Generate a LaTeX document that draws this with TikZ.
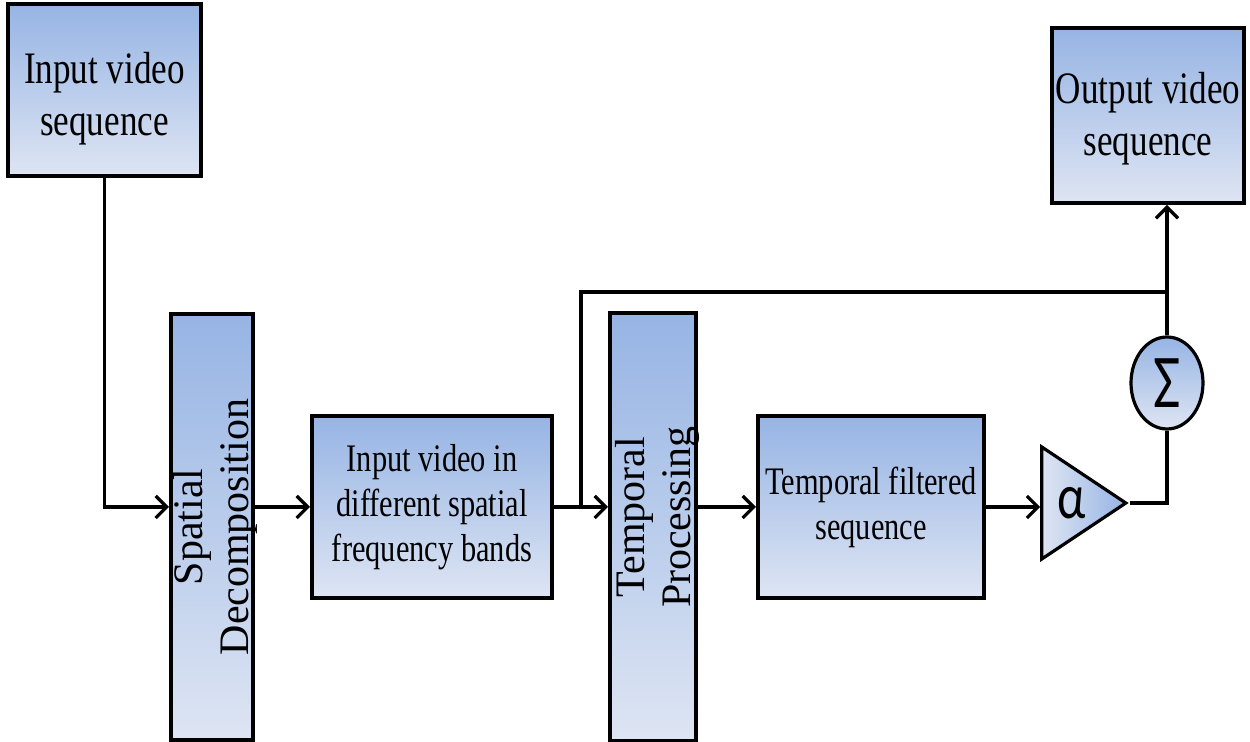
\documentclass[tikz,border=0pt]{standalone}
\usepackage{fontspec}
\setmainfont{Liberation Serif}[FakeStretch=0.78]
\newfontfamily\plainserif{Liberation Serif}
\newfontfamily\greekfont{Carlito}[FakeStretch=0.78]
\usetikzlibrary{arrows.meta,shapes.geometric,calc}

\definecolor{bandtop}{RGB}{150,180,228}
\definecolor{bandbot}{RGB}{222,229,243}

\tikzset{
	blk/.style={draw,line width=2pt,top color=bandtop,bottom color=bandbot,inner sep=0pt,align=center},
	bigtxt/.style={font=\fontsize{22.5}{26}\selectfont},
	midtxt/.style={font=\fontsize{19.5}{22.5}\selectfont},
	vtxt/.style={rotate=90,align=center,inner sep=0pt,font=\plainserif\fontsize{21}{23}\selectfont},
	greektxt/.style={font=\greekfont\fontsize{32}{32}\selectfont},
	conn/.style={line width=1.6pt},
	arr/.style={conn,-{Straight Barb[length=5.5pt,width=11pt]}}
}

\begin{document}
\begin{tikzpicture}[x=0.5pt,y=-0.5pt]
		
		\useasboundingbox (0,0) rectangle (1250,742);
		
		% blocks
		\node[blk,bigtxt,minimum width=96.5pt,minimum height=86pt] (in) at (104.5,90) {\rule{0pt}{24pt}Input video\\sequence};
		\node[blk,minimum width=41pt,minimum height=213pt,label={[vtxt,yshift=-1.5pt]center:{Spatial\\Decomposition}}] (spatial) at (212,527) {};
		\node[blk,midtxt,minimum width=120pt,minimum height=91pt] (bands) at (432,507) {Input video in\\different spatial\\frequency bands};
		\node[blk,minimum width=43pt,minimum height=214pt,label={[vtxt,xshift=5pt,yshift=-2pt]center:{Temporal\\Processing}}] (temporal) at (653,527) {};
		\node[blk,midtxt,minimum width=113pt,minimum height=91pt] (filtered) at (871,507) {Temporal filtered\\sequence};
		\node[blk,bigtxt,minimum width=96pt,minimum height=87.5pt] (out) at (1148,115.5) {\rule{0pt}{19pt}Output video\\sequence};
		
		\node[ellipse,draw,conn,top color=bandtop,bottom color=bandbot,minimum width=36pt,minimum height=46pt,inner sep=0pt,greektxt,font=\greekfont\fontsize{38}{38}\selectfont] (sum) at (1167,383) {Σ};
		\node[isosceles triangle,isosceles triangle stretches,shape border rotate=0,draw,conn,left color=bandbot,right color=bandtop,minimum width=56pt,minimum height=42pt,inner sep=0pt,anchor=apex,greektxt] (gain) at (1130,503) {\kern3pt α};
		
		% connectors
		\draw[arr] (in.south) |- (spatial.west |- bands.west);
		\draw[arr] (spatial.east |- bands.west) -- (bands.west);
		\draw[arr] (bands.east) -- (temporal.west |- bands.east);
		\coordinate (split) at ($(bands.east)!0.5!(temporal.west |- bands.east)$);
		\coordinate (merge) at (sum.north |- 0,292);
		\draw[conn] (split) |- (merge);
		\draw[arr] (sum.north) -- (sum.north |- out.south);
		\draw[arr] (temporal.east |- filtered.west) -- (filtered.west);
		\draw[arr] (filtered.east) -- (filtered.east -| gain.west);
		\draw[conn] (gain.apex) -| (sum.south);
		
	\end{tikzpicture}
\end{document}
